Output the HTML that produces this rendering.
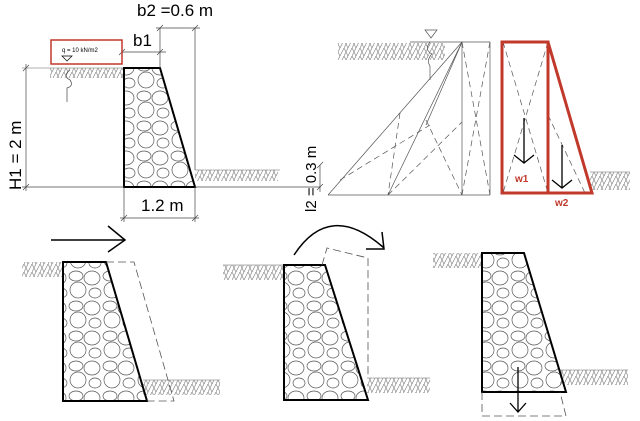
<!DOCTYPE html>
<html><head><meta charset="utf-8"><style>
html,body{margin:0;padding:0;background:#fff;width:640px;height:421px;overflow:hidden}
svg{display:block}
text{font-family:"Liberation Sans",sans-serif}
</style></head><body>
<svg width="640" height="421" viewBox="0 0 640 421" xmlns="http://www.w3.org/2000/svg">
<defs>
<pattern id="st" width="34" height="30" patternUnits="userSpaceOnUse">
<ellipse cx="8" cy="6" rx="7" ry="5" fill="none" stroke="#555" stroke-width="0.7"/>
<ellipse cx="24" cy="8" rx="8" ry="7" fill="none" stroke="#555" stroke-width="0.7"/>
<ellipse cx="10" cy="20" rx="8" ry="8" fill="none" stroke="#555" stroke-width="0.7"/>
<ellipse cx="27" cy="23" rx="6" ry="5" fill="none" stroke="#555" stroke-width="0.7"/>
</pattern>
<pattern id="h" width="8" height="8" patternUnits="userSpaceOnUse">
<path d="M0 8 L4 0 M4 8 L8 0 M0 0 L4 8" stroke="#888" stroke-width="0.7" fill="none"/>
</pattern>
</defs>
<g stroke="#000" fill="none">
<rect x="50" y="68" width="74" height="10" fill="url(#h)" stroke="none"/>
<rect x="195" y="170" width="83" height="11" fill="url(#h)" stroke="none"/>
<line x1="22" y1="68" x2="124" y2="68" stroke="#999" stroke-width="0.7"/>
<line x1="195" y1="170" x2="280" y2="170" stroke="#999" stroke-width="0.7"/>
<polygon points="124,68 160,68 195,187 124,187" fill="url(#st)" stroke-width="2"/>
<g stroke="#444" stroke-width="0.7">
<line x1="26" y1="64" x2="26" y2="191"/>
<line x1="22" y1="187" x2="124" y2="187"/>
<line x1="195" y1="187" x2="320" y2="187"/>
<line x1="124" y1="187" x2="124" y2="222"/>
<line x1="195" y1="187" x2="195" y2="222"/>
<line x1="120" y1="218" x2="199" y2="218"/>
<line x1="160" y1="28" x2="160" y2="68"/>
<line x1="195" y1="28" x2="195" y2="170"/>
<line x1="156" y1="28" x2="200" y2="28"/>
<line x1="122" y1="52" x2="166" y2="52"/>
<line x1="320" y1="165" x2="320" y2="192"/>
<path d="M23 71l6-6M23 190l6-6M121 221l6-6M192 221l6-6M157 31l6-6M192 31l6-6M119 55l6-6M157 55l6-6M317 168l6-6M317 190l6-6"/>
<path d="M70 70 q-8 6 0 10 q4 6 -3 8 l0 14"/>
</g>
<rect x="51" y="40" width="71" height="24" stroke="#c0392b" stroke-width="1.5"/>
<path d="M62 56 h10 l-5 5 z" stroke-width="0.7"/>
</g>
<g font-size="6" fill="#000"><text x="62" y="52">q = 10 kN/m2</text></g>
<text x="137" y="16" font-size="17">b2 =0.6 m</text>
<text x="133" y="46" font-size="17">b1</text>
<text x="141" y="211" font-size="17">1.2 m</text>
<text transform="translate(21,190) rotate(-90)" font-size="17">H1 = 2 m</text>
<text transform="translate(316,212) rotate(-90)" font-size="15">l2 = 0.3 m</text>
<g fill="none" stroke="#000">
<rect x="338" y="43" width="107" height="17" fill="url(#h)" stroke="none"/>
<rect x="590" y="172" width="40" height="18" fill="url(#h)" stroke="none"/>
<line x1="590" y1="172" x2="630" y2="172" stroke="#999" stroke-width="0.7"/>
<g stroke="#555" stroke-width="0.7">
<line x1="410" y1="42" x2="490" y2="42"/>
<path d="M425 30 h12 l-6 8 z"/>
<path d="M430 42 q-6 8 2 12 q-6 6 -2 12 l0 14"/>
<line x1="462" y1="42" x2="462" y2="195"/>
<line x1="490" y1="42" x2="490" y2="195"/>
<line x1="328" y1="195" x2="490" y2="195"/>
<line x1="462" y1="42" x2="328" y2="195"/>
<line x1="462" y1="42" x2="388" y2="195"/>
<line x1="462" y1="42" x2="426" y2="125"/>
<g stroke-dasharray="6,4">
<path d="M462 42 L490 195 M490 42 L462 195"/>
<path d="M400 113 L388 195 M426 120 L462 195 M388 195 L462 122 M340 180 L430 125"/>
<path d="M503 42 L548 193 M548 42 L503 193 M548 115 L585 193"/>
</g>
</g>
<g stroke="#c0392b" stroke-width="3">
<rect x="502" y="42" width="46" height="151"/>
<polygon points="548,42 592,193 548,193"/>
</g>
<g stroke="#000" stroke-width="1.3">
<path d="M524 118 V163 M514 155 L524 163 L534 155"/>
<path d="M562 145 V188 M552 180 L562 188 L572 180"/>
</g>
</g>
<text x="515" y="182" font-size="10" fill="#c0392b" font-weight="bold">w1</text>
<text x="555" y="206" font-size="10" fill="#c0392b" font-weight="bold">w2</text>
<g fill="none" stroke="#000">
<rect x="22" y="262" width="41" height="15" fill="url(#h)" stroke="none"/>
<rect x="143" y="380" width="77" height="15" fill="url(#h)" stroke="none"/>
<line x1="143" y1="380" x2="220" y2="380" stroke="#999" stroke-width="0.7"/>
<polygon points="63,262 106,262 147,401 63,401" fill="url(#st)" stroke-width="2"/>
<path d="M106 262 H134 L168 380 L174 401 H147" stroke="#555" stroke-width="0.8" stroke-dasharray="8,4"/>
<path d="M51 240 H125 M108 226 L125 240 L108 252" stroke-width="1.5"/>
<rect x="223" y="265" width="60" height="15" fill="url(#h)" stroke="none"/>
<rect x="367" y="378" width="63" height="15" fill="url(#h)" stroke="none"/>
<line x1="223" y1="265" x2="284" y2="265" stroke="#999" stroke-width="0.7"/>
<line x1="367" y1="378" x2="430" y2="378" stroke="#999" stroke-width="0.7"/>
<polygon points="284,265 325,265 368,400 284,400" fill="url(#st)" stroke-width="2"/>
<path d="M322 265 L327 248 L368 258 V378" stroke="#555" stroke-width="0.8" stroke-dasharray="8,4"/>
<path d="M294 255 Q330 200 384 248 M366 249 L384 249 L382 232" stroke-width="1.5"/>
<rect x="433" y="253" width="49" height="15" fill="url(#h)" stroke="none"/>
<rect x="560" y="370" width="68" height="15" fill="url(#h)" stroke="none"/>
<line x1="560" y1="370" x2="628" y2="370" stroke="#999" stroke-width="0.7"/>
<polygon points="482,253 524,253 566,392 482,392" fill="url(#st)" stroke-width="2"/>
<path d="M482 392 V416 H566 L560 392" stroke="#555" stroke-width="0.8" stroke-dasharray="8,4"/>
<path d="M518 367 V412 M510 403 L518 412 L526 403" stroke-width="1.3"/>
</g>
</svg>
</body></html>
